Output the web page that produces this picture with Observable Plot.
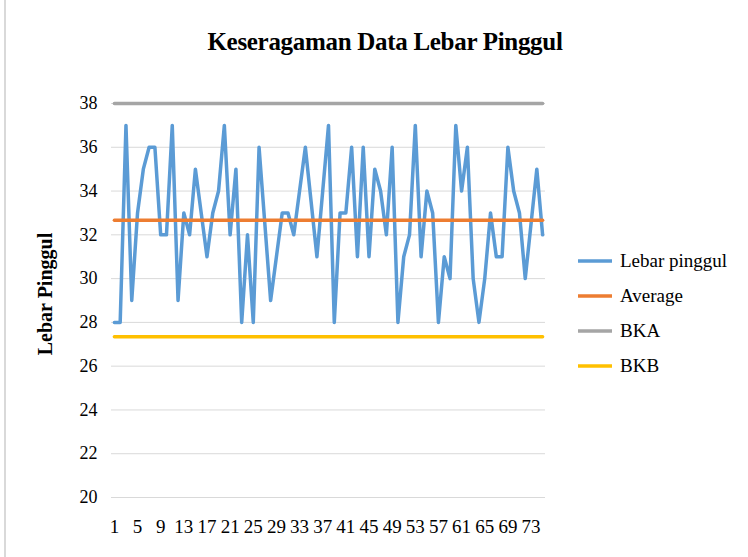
<!DOCTYPE html>
<html><head><meta charset="utf-8">
<script src="https://cdn.jsdelivr.net/npm/d3@7"></script>
<script src="https://cdn.jsdelivr.net/npm/@observablehq/plot@0.6"></script>
<style>
body{margin:0;background:#fff;}
#wrap{position:relative;width:748px;height:557px;overflow:hidden;font-family:"Liberation Serif","Times New Roman",serif;color:#000;}
#border{position:absolute;left:4px;top:0;width:2px;height:557px;background:#d9d9d9;}
#title{position:absolute;left:0;width:770px;top:28px;text-align:center;font-weight:bold;font-size:25px;line-height:28px;letter-spacing:-0.3px;}
#ytitle{position:absolute;left:45px;top:294px;transform:translate(-50%,-50%) rotate(-90deg);font-weight:bold;font-size:20px;white-space:nowrap;}
#legend{position:absolute;left:578px;top:243px;font-size:19px;}
.item{display:flex;align-items:center;height:35px;}
.item svg{margin-right:8px;}
#chart{position:absolute;left:0;top:0;}
</style></head>
<body>
<div id="wrap">
  <div id="border"></div>
  <div id="chart"></div>
  <div id="title"></div>
  <div id="ytitle"></div>
  <div id="legend"></div>
</div>
<script>
const titleText = "Keseragaman Data Lebar Pinggul";
const yTitle = "Lebar Pinggul";
const seriesNames = ["Lebar pinggul", "Average", "BKA", "BKB"];
const seriesColors = ["#5b9bd5", "#ed7d31", "#a5a5a5", "#ffc000"];
const samples = d3.range(1, 76);
const lebarPinggul = [28,28,37,29,33,35,36,36,32,32,
  37,29,33,32,35,33,31,33,34,37,
  32,35,28,32,28,36,32.5,29,31,33,
  33,32,34,36,33.5,31,34,37,28,33,
  33,36,31,36,31,35,34,32,36,28,
  31,32,37,31,34,33,28,31,30,37,
  34,36,30,28,30,33,31,31,36,34,
  33,30,32.5,35,32];
const average = 32.67;
const bka = 38.0;
const bkb = 27.34;
const yTicks = [20,22,24,26,28,30,32,34,36,38];
const xTicks = [1,5,9,13,17,21,25,29,33,37,41,45,49,53,57,61,65,69,73];

document.getElementById("title").textContent = titleText;
document.getElementById("ytitle").textContent = yTitle;

const rows = samples.map((s, k) => ({s, v: lebarPinggul[k]}));
const constRows = (val) => samples.map(s => ({s, v: val}));

const chart = Plot.plot({
  width: 748, height: 557,
  marginLeft: 111, marginRight: 203, marginTop: 103, marginBottom: 60,
  style: {fontFamily: "'Liberation Serif','Times New Roman',serif", fontSize: "18px", color: "#000", background: "transparent"},
  x: {type: "linear", domain: [0.5, 75.5]},
  y: {domain: [20, 38]},
  marks: [
    Plot.gridY(yTicks, {stroke: "#d9d9d9", strokeOpacity: 1, strokeWidth: 1}),
    Plot.ruleY([20], {stroke: "#d9d9d9", strokeWidth: 1.2}),
    Plot.line(rows, {x: "s", y: "v", stroke: seriesColors[0], strokeWidth: 3.5, strokeLinejoin: "round"}),
    Plot.line(constRows(average), {x: "s", y: "v", stroke: seriesColors[1], strokeWidth: 3.5}),
    Plot.line(constRows(bka), {x: "s", y: "v", stroke: seriesColors[2], strokeWidth: 3.5}),
    Plot.line(constRows(bkb), {x: "s", y: "v", stroke: seriesColors[3], strokeWidth: 3.5}),
    Plot.axisY(yTicks, {tickSize: 0, tickPadding: 14, label: null, fontSize: 18}),
    Plot.axisX(xTicks, {tickSize: 0, tickPadding: 22, label: null, fontSize: 19, tickFormat: d => String(d)})
  ]
});
document.getElementById("chart").appendChild(chart);

const legend = document.getElementById("legend");
seriesNames.forEach((name, k) => {
  const item = document.createElement("div");
  item.className = "item";
  item.innerHTML = `<svg width="34" height="6"><line x1="0" x2="34" y1="3" y2="3" stroke="${seriesColors[k]}" stroke-width="3.5"/></svg><span></span>`;
  item.querySelector("span").textContent = name;
  legend.appendChild(item);
});
</script>
</body></html>
